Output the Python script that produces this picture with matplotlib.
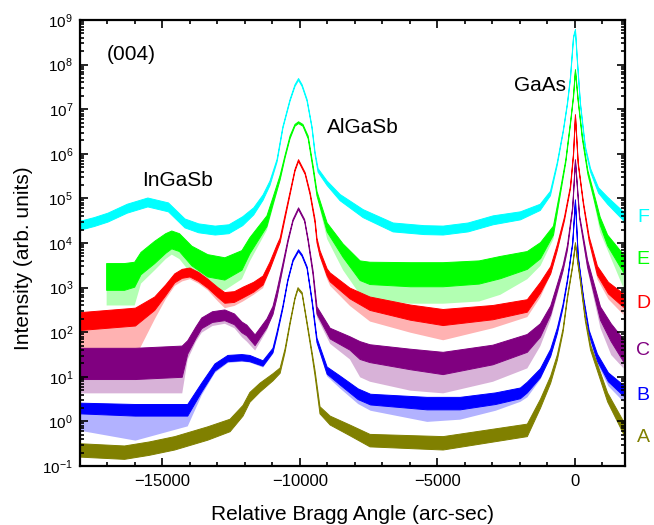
"""Curvas de rocking XRD (004) de las muestras A-F, escala logarítmica."""

import matplotlib

matplotlib.use("Agg")

import matplotlib.pyplot as plt
import matplotlib.transforms as mtransforms
import numpy as np
from matplotlib.ticker import FixedLocator, LogLocator, MultipleLocator, NullFormatter

plt.rcParams["font.family"] = ["Liberation Sans", "DejaVu Sans"]
plt.rcParams["mathtext.fontset"] = "custom"
plt.rcParams["mathtext.rm"] = "Liberation Sans"
plt.rcParams["mathtext.default"] = "regular"

# --- datos: ángulo (arc-sec), log10(intensidad),
#     semiancho del ruido (décadas) y suelo de los picos de ruido ---
x_F = [-18000, -17500, -17000, -16300, -15550, -14800, -14200, -13700, -13100, -12600,
       -12100, -11700, -11360, -11110, -10850, -10640, -10380, -10200, -10070, -9940,
       -9760, -9580, -9470, -9360, -9030, -8560, -7720, -6630, -5500, -4810,
       -3900, -2990, -2000, -1280, -910, -660, -440, -290, -180, -70,
       0, 70, 180, 360, 550, 840, 1170, 1800]
F_mid = [4.40, 4.48, 4.58, 4.78, 4.92, 4.81, 4.45, 4.34, 4.29, 4.32,
         4.50, 4.72, 5.03, 5.35, 5.86, 6.60, 7.21, 7.54, 7.68, 7.54,
         7.21, 6.60, 6.02, 5.64, 5.35, 5.03, 4.67, 4.36, 4.30, 4.29,
         4.36, 4.52, 4.62, 4.81, 5.12, 5.79, 6.53, 7.14, 7.72, 8.62,
         8.78, 8.10, 7.14, 6.15, 5.64, 5.19, 4.96, 4.58]
F_noise = [0.10, 0.10, 0.10, 0.10, 0.10, 0.10, 0.10, 0.10, 0.10, 0.10,
           0.10, 0.08, 0.06, 0.05, 0.03, 0.02, 0.02, 0.02, 0.02, 0.02,
           0.02, 0.02, 0.03, 0.04, 0.05, 0.07, 0.09, 0.10, 0.10, 0.10,
           0.10, 0.10, 0.09, 0.07, 0.05, 0.03, 0.02, 0.02, 0.02, 0.02,
           0.02, 0.02, 0.02, 0.03, 0.04, 0.06, 0.08, 0.10]

x_E = [-17050, -16400, -16030, -15800, -15300, -14900, -14680, -14400, -13950, -13370,
       -12750, -12130, -11840, -11220, -11000, -10740, -10560, -10380, -10200, -10070,
       -9910, -9720, -9540, -9400, -9030, -8450, -7830, -7470, -6000, -4810,
       -3500, -2730, -1750, -1270, -800, -550, -350, -180, -70, 0,
       100, 250, 450, 650, 900, 1170, 1750]
E_mid = [3.25, 3.25, 3.30, 3.55, 3.80, 4.00, 4.08, 4.02, 3.72, 3.50,
         3.43, 3.62, 3.95, 4.50, 4.95, 5.48, 5.95, 6.38, 6.65, 6.71,
         6.65, 6.38, 5.70, 5.12, 4.36, 3.84, 3.39, 3.33, 3.30, 3.30,
         3.35, 3.46, 3.62, 3.84, 4.29, 5.15, 5.85, 6.70, 7.30, 7.88,
         7.20, 6.38, 5.60, 5.12, 4.50, 4.07, 3.55]
E_noise = [0.30, 0.30, 0.28, 0.25, 0.25, 0.22, 0.20, 0.20, 0.22, 0.25,
           0.25, 0.22, 0.18, 0.12, 0.08, 0.05, 0.03, 0.03, 0.02, 0.02,
           0.02, 0.03, 0.04, 0.05, 0.10, 0.15, 0.22, 0.25, 0.27, 0.27,
           0.26, 0.25, 0.20, 0.18, 0.10, 0.05, 0.03, 0.02, 0.02, 0.02,
           0.02, 0.03, 0.04, 0.06, 0.09, 0.12, 0.20]
E_floor = [2.61, 2.61, 2.61, 3.10, 3.40, 3.65, 3.75, 3.65, 3.30, 3.00,
           2.95, 3.20, 3.60, 4.30, 4.80, 5.40, 5.90, 6.33, 6.62, 6.68,
           6.62, 6.33, 5.65, 5.05, 4.10, 3.40, 2.85, 2.75, 2.65, 2.65,
           2.70, 2.85, 3.20, 3.50, 4.10, 5.05, 5.80, 6.65, 7.25, 7.85,
           7.15, 6.30, 5.50, 5.00, 4.25, 3.85, 3.00]

x_D = [-18000, -17000, -16000, -15300, -14900, -14570, -14300, -14020, -13700, -13370,
       -13000, -12750, -12400, -12090, -11700, -11360, -11110, -10850, -10740, -10560,
       -10380, -10200, -10070, -9830, -9650, -9470, -9400, -9290, -9030, -8920,
       -8200, -7470, -6000, -4810, -3000, -1750, -1270, -900, -660, -400,
       -180, -70, 0, 100, 290, 500, 800, 1200, 1750]
D_mid = [2.25, 2.30, 2.35, 2.65, 2.95, 3.22, 3.32, 3.35, 3.25, 3.10,
         2.90, 2.78, 2.80, 2.90, 3.02, 3.17, 3.50, 3.91, 4.07, 4.60,
         5.12, 5.64, 5.86, 5.57, 5.12, 4.50, 4.07, 3.78, 3.35, 3.24,
         2.88, 2.65, 2.45, 2.34, 2.45, 2.60, 3.01, 3.40, 3.91, 4.55,
         5.26, 6.00, 6.87, 5.80, 4.90, 4.10, 3.39, 3.00, 2.72]
D_noise = [0.20, 0.20, 0.20, 0.15, 0.12, 0.10, 0.10, 0.10, 0.10, 0.10,
           0.11, 0.12, 0.12, 0.12, 0.11, 0.10, 0.08, 0.06, 0.05, 0.04,
           0.03, 0.02, 0.02, 0.02, 0.03, 0.04, 0.05, 0.06, 0.08, 0.10,
           0.12, 0.15, 0.17, 0.18, 0.16, 0.14, 0.12, 0.08, 0.06, 0.04,
           0.03, 0.02, 0.02, 0.02, 0.03, 0.05, 0.10, 0.13, 0.15]
D_floor = [1.60, 1.60, 1.45, 2.30, 2.75, 3.05, 3.15, 3.20, 3.10, 2.95,
           2.70, 2.55, 2.60, 2.70, 2.85, 3.00, 3.40, 3.80, 4.00, 4.55,
           5.08, 5.60, 5.84, 5.54, 5.08, 4.45, 3.98, 3.68, 3.20, 3.05,
           2.60, 2.25, 2.00, 1.83, 2.10, 2.35, 2.80, 3.30, 3.80, 4.50,
           5.22, 5.97, 6.85, 5.77, 4.85, 4.00, 3.20, 2.75, 2.40]

x_C = [-18000, -16000, -14300, -14100, -13800, -13590, -13200, -12750, -12400, -12130,
       -11950, -11650, -11220, -11000, -10850, -10640, -10450, -10270, -10070, -9850,
       -9720, -9540, -9400, -8920, -8200, -7830, -7470, -6000, -4810, -3000,
       -1750, -1275, -900, -656, -450, -290, -100, 0, 150, 440,
       910, 1300, 1750]
C_mid = [1.30, 1.30, 1.35, 1.67, 2.00, 2.21, 2.35, 2.39, 2.30, 2.12,
         2.05, 1.83, 2.21, 2.50, 2.88, 3.50, 4.07, 4.52, 4.78, 4.52,
         4.07, 3.33, 2.50, 1.98, 1.76, 1.60, 1.53, 1.40, 1.31, 1.50,
         1.76, 2.05, 2.50, 3.01, 3.45, 3.91, 4.80, 5.86, 4.60, 3.55,
         2.43, 2.00, 1.60]
C_noise = [0.35, 0.35, 0.35, 0.15, 0.13, 0.12, 0.12, 0.12, 0.12, 0.12,
           0.12, 0.12, 0.10, 0.09, 0.08, 0.05, 0.03, 0.02, 0.02, 0.02,
           0.03, 0.05, 0.08, 0.12, 0.15, 0.20, 0.20, 0.23, 0.25, 0.22,
           0.20, 0.15, 0.10, 0.08, 0.06, 0.05, 0.03, 0.02, 0.03, 0.08,
           0.15, 0.20, 0.25]
C_floor = [0.64, 0.64, 0.64, 1.40, 1.80, 2.00, 2.15, 2.20, 2.10, 1.90,
           1.80, 1.60, 2.05, 2.40, 2.75, 3.40, 4.00, 4.48, 4.75, 4.48,
           4.00, 3.25, 2.35, 1.75, 1.40, 1.00, 0.90, 0.70, 0.64, 0.90,
           1.20, 1.70, 2.30, 2.85, 3.35, 3.80, 4.75, 5.84, 4.55, 3.40,
           2.10, 1.50, 1.20]

x_B = [-18000, -16000, -14100, -13590, -13110, -12640, -12130, -11840, -11360, -11000,
       -10850, -10640, -10460, -10270, -10070, -9940, -9760, -9580, -9400, -9030,
       -8560, -7900, -7450, -5390, -4190, -2900, -2000, -1750, -1275, -900,
       -656, -450, -290, -100, 0, 100, 290, 500, 800, 1200,
       1750]
B_mid = [0.30, 0.26, 0.26, 0.77, 1.22, 1.42, 1.44, 1.42, 1.31, 1.60,
         1.98, 2.57, 3.17, 3.62, 3.84, 3.73, 3.46, 2.72, 1.83, 1.15,
         0.93, 0.62, 0.50, 0.41, 0.41, 0.52, 0.64, 0.77, 1.09, 1.55,
         2.05, 2.60, 3.17, 4.00, 4.96, 3.70, 2.79, 2.00, 1.44, 1.00,
         0.70]
B_noise = [0.12, 0.13, 0.13, 0.10, 0.08, 0.07, 0.07, 0.07, 0.06, 0.05,
           0.04, 0.03, 0.02, 0.02, 0.02, 0.02, 0.02, 0.03, 0.05, 0.08,
           0.10, 0.12, 0.12, 0.14, 0.14, 0.13, 0.12, 0.12, 0.10, 0.08,
           0.06, 0.04, 0.03, 0.02, 0.02, 0.02, 0.03, 0.05, 0.08, 0.10,
           0.12]
B_floor = [-0.20, -0.42, -0.10, 0.60, 1.10, 1.32, 1.35, 1.33, 1.22, 1.52,
           1.92, 2.52, 3.13, 3.58, 3.82, 3.70, 3.42, 2.66, 1.75, 1.02,
           0.75, 0.40, 0.25, 0.00, 0.05, 0.25, 0.45, 0.55, 0.95, 1.45,
           1.95, 2.55, 3.12, 3.97, 4.94, 3.67, 2.72, 1.90, 1.30, 0.80,
           0.45]

x_A = [-18000, -16400, -15500, -14570, -13370, -12560, -12090, -11840, -11470, -11000,
       -10740, -10560, -10380, -10200, -10090, -9940, -9760, -9580, -9470, -9290,
       -8920, -8200, -7470, -4810, -1750, -1270, -900, -660, -450, -290,
       -100, 0, 80, 180, 360, 550, 1170, 1750]
A_mid = [-0.64, -0.69, -0.60, -0.48, -0.26, -0.08, 0.25, 0.55, 0.77, 1.00,
         1.15, 1.60, 2.21, 2.77, 2.99, 2.88, 2.21, 1.53, 1.09, 0.26,
         0.03, -0.19, -0.42, -0.48, -0.19, 0.41, 0.95, 1.44, 2.05, 2.79,
         3.50, 4.00, 3.60, 3.17, 2.30, 1.67, 0.55, -0.13]
A_noise = [0.15, 0.15, 0.15, 0.15, 0.15, 0.14, 0.12, 0.11, 0.10, 0.08,
           0.06, 0.04, 0.03, 0.02, 0.02, 0.02, 0.03, 0.04, 0.06, 0.08,
           0.10, 0.12, 0.14, 0.15, 0.14, 0.10, 0.08, 0.06, 0.04, 0.03,
           0.02, 0.02, 0.02, 0.03, 0.04, 0.06, 0.10, 0.14]

labels = ["F", "E", "D", "C", "B", "A"]
label_pos = [4.58, 3.62, 2.65, 1.58, 0.59, -0.35]
peak_names = ["InGaSb", "AlGaSb", "GaAs"]
peak_text_x = [-14460, -7720, -1275]
peak_text_logy = [5.41, 6.58, 7.54]

COLORS = {
    "F": "#00FFFF",
    "E": "#00FF00",
    "D": "#FF0000",
    "C": "#800080",
    "B": "#0000FF",
    "A": "#808000",
}


def draw_curve(ax, x, mid, noise, color, floor=None):
    x = np.asarray(x, dtype=float)
    mid = np.asarray(mid, dtype=float)
    noise = np.asarray(noise, dtype=float)
    assert len(x) == len(mid) == len(noise)
    lo, hi = mid - noise, mid + noise
    if floor is not None:
        assert len(floor) == len(x)
        floor = np.minimum(np.asarray(floor, dtype=float), lo)
        # zona de picos de ruido hacia abajo, más transparente
        ax.fill_between(x, 10 ** floor, 10 ** lo, color=color, alpha=0.3, lw=0)
    ax.fill_between(x, 10 ** lo, 10 ** hi, facecolor=color, edgecolor=color, lw=0.7)


def main() -> None:
    fig = plt.figure(figsize=(6.54, 5.25), dpi=100)
    ax = fig.add_axes([80 / 654, 1 - 466 / 525, 545 / 654, 446 / 525])

    curves = [
        ("F", x_F, F_mid, F_noise, None),
        ("E", x_E, E_mid, E_noise, E_floor),
        ("D", x_D, D_mid, D_noise, D_floor),
        ("C", x_C, C_mid, C_noise, C_floor),
        ("B", x_B, B_mid, B_noise, B_floor),
        ("A", x_A, A_mid, A_noise, None),
    ]
    for name, x, mid, noise, floor in curves:
        draw_curve(ax, x, mid, noise, COLORS[name], floor)

    ax.set_yscale("log")
    ax.set_xlim(-18000, 1820)
    ax.set_ylim(1e-1, 1e9)

    ax.xaxis.set_major_locator(FixedLocator([-15000, -10000, -5000, 0]))
    ax.xaxis.set_minor_locator(MultipleLocator(1000))
    ax.yaxis.set_major_locator(LogLocator(base=10, numticks=20))
    ax.yaxis.set_minor_locator(LogLocator(base=10, subs=np.arange(2, 10), numticks=20))
    ax.yaxis.set_minor_formatter(NullFormatter())

    ax.tick_params(which="both", direction="in", top=True, right=True, width=1.2)
    ax.tick_params(which="major", length=6)
    ax.tick_params(which="minor", length=3)
    ax.tick_params(axis="x", labelsize=12, pad=6)
    ax.tick_params(axis="y", labelsize=11, pad=5)
    for sp in ax.spines.values():
        sp.set_linewidth(1.6)

    ax.set_xlabel("Relative Bragg Angle (arc-sec)", fontsize=15, va="top")
    ax.xaxis.set_label_coords(0.5, -0.087)
    ax.set_ylabel("Intensity (arb. units)", fontsize=15)
    ax.yaxis.set_label_coords(-0.086, 0.466)

    ax.text(-17045, 10 ** 8.22, "(004)", fontsize=15, ha="left", va="center")
    for name, tx, ty in zip(peak_names, peak_text_x, peak_text_logy):
        ax.text(tx, 10 ** ty, name, fontsize=15, ha="center", va="center")

    trans = mtransforms.blended_transform_factory(ax.transAxes, ax.transData)
    for lab, ly in zip(labels, label_pos):
        ax.text(1.033, 10 ** ly, lab, transform=trans, fontsize=14,
                ha="center", va="center", color=COLORS[lab])

    fig.savefig("out.png", dpi=100)
    plt.close(fig)


if __name__ == "__main__":
    main()
